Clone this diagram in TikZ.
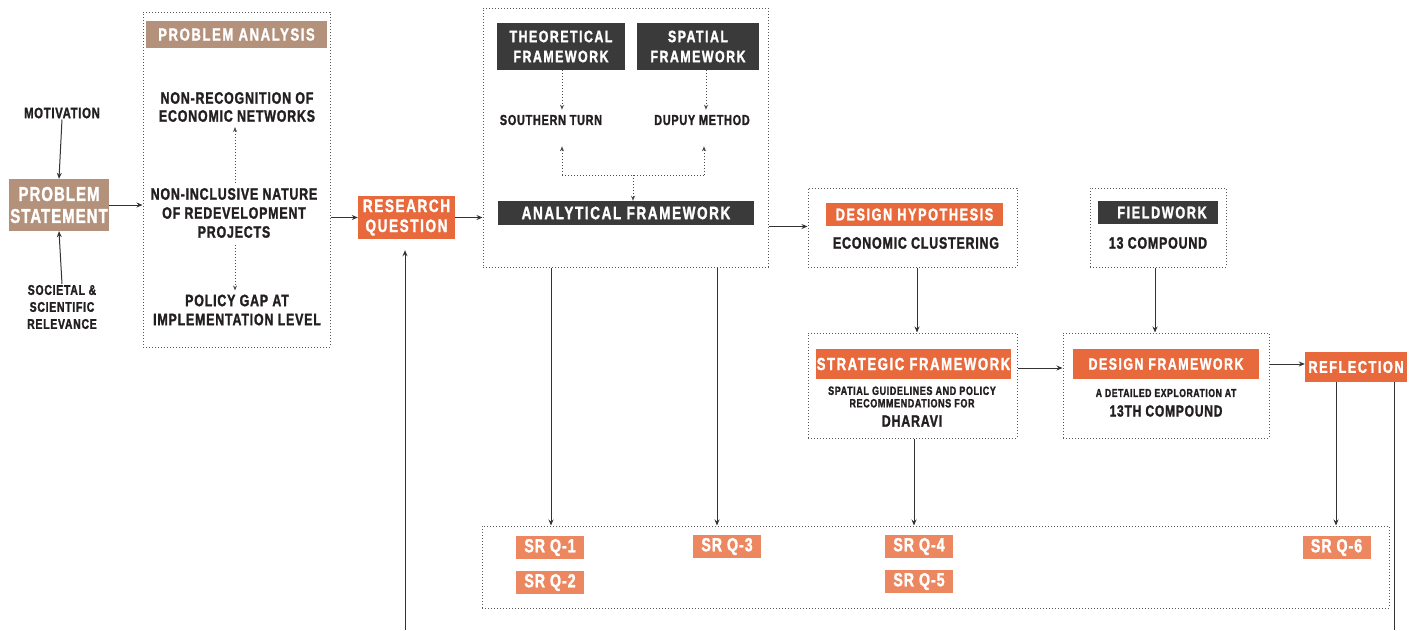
\documentclass[tikz,border=0pt]{standalone}
\usepackage{fontspec}
\usetikzlibrary{arrows.meta}
\newfontfamily\labf{Liberation Sans}[FakeStretch=0.75,LetterSpace=9,FakeBold=1.5]
\newfontfamily\bodf{Liberation Sans}[FakeStretch=0.75,LetterSpace=5,FakeBold=1.5]
\definecolor{orng}{HTML}{E8693C}
\definecolor{lorng}{HTML}{EC8760}
\definecolor{brwn}{HTML}{B3917B}
\definecolor{dgray}{HTML}{3A3A3A}
\definecolor{txt}{HTML}{231F20}
\newcommand{\fs}[2]{\fontsize{#1}{#2}\selectfont}
\tikzset{
  lbox/.style={inner sep=0pt, align=center, text=white},
  btxt/.style={inner sep=1pt, align=center, text=txt},
  dotbox/.style={draw=black!65, line width=1pt, dash pattern=on 1pt off 2pt},
  arr/.style={-{Stealth[length=6pt,width=5pt]}, line width=1pt, draw=black!80},
  darr/.style={-{Stealth[length=5pt,width=4pt]}, line width=1pt, draw=black!70, dash pattern=on 1pt off 2pt},
  pline/.style={line width=1pt, draw=black!80},
}
\begin{document}
\begin{tikzpicture}[x=1pt,y=-1pt]
\useasboundingbox[fill=white] (0,0) rectangle (1420,630);

% ---------- left ----------
\node[btxt, font=\bodf\bfseries\fs{15}{17}] (mot) at (62,113) {MOTIVATION};
\node[lbox, fill=brwn, minimum width=100pt, minimum height=52pt, font=\bodf\bfseries\fs{20}{22}] (ps) at (59,205) {PROBLEM\\STATEMENT};
\node[btxt, font=\bodf\bfseries\fs{14}{17}] (soc) at (62,307) {SOCIETAL \&\\SCIENTIFIC\\RELEVANCE};
\draw[arr] (mot.south) -- (ps.north);
\draw[arr] (soc.north) -- (ps.south);

% problem analysis
\node[dotbox, minimum width=187pt, minimum height=335pt, inner sep=0pt] (pa) at (236.5,179.5) {};
\node[lbox, fill=brwn, minimum width=181pt, minimum height=27pt, font=\labf\bfseries\fs{17.5}{20}] (pal) at (236.5,34.5) {PROBLEM ANALYSIS};
\node[btxt, font=\bodf\bfseries\fs{16.5}{18}] (nr) at (237,107) {NON-RECOGNITION OF\\ECONOMIC NETWORKS};
\node[btxt, font=\bodf\bfseries\fs{16.5}{19}] (ni) at (234,213) {NON-INCLUSIVE NATURE\\OF REDEVELOPMENT\\PROJECTS};
\node[btxt, font=\bodf\bfseries\fs{16.5}{19}] (pg) at (237,310) {POLICY GAP AT\\IMPLEMENTATION LEVEL};
\coordinate (a1) at (235,183);
\coordinate (a2) at (235,245);
\draw[darr] (a1) -- ([yshift=-4pt]nr.south -| a1);
\draw[darr] (a2) -- ([yshift=3pt]pg.north -| a2);
\draw[arr] (ps.east) -- (ps.east -| pa.west);

% research question
\node[lbox, fill=orng, minimum width=97pt, minimum height=43pt, font=\labf\bfseries\fs{18}{20}] (rq) at (406.5,217.5) {RESEARCH\\QUESTION};
\draw[arr] (rq.west -| pa.east) -- (rq.west);
\coordinate (rqin) at (405,630);
\draw[arr] (rqin) -- ([yshift=-11pt]rq.south -| rqin);

% ---------- middle ----------
\node[dotbox, minimum width=285pt, minimum height=259pt, inner sep=0pt] (mid) at (625.5,137.5) {};
\draw[arr] (rq.east) -- (rq.east -| mid.west);
\node[lbox, fill=dgray, minimum width=128pt, minimum height=47pt, font=\labf\bfseries\fs{16.5}{20}] (tf) at (561,46.5) {THEORETICAL\\FRAMEWORK};
\node[lbox, fill=dgray, minimum width=122pt, minimum height=47pt, font=\labf\bfseries\fs{16.5}{20}] (spf) at (698,46.5) {SPATIAL\\FRAMEWORK};
\node[btxt, font=\bodf\bfseries\fs{14.5}{16}] (st) at (551,120) {SOUTHERN TURN};
\node[btxt, font=\bodf\bfseries\fs{14.5}{16}] (dm) at (702,120) {DUPUY METHOD};
\draw[darr] (tf.south -| 562,0) coordinate (t1) -- ([yshift=4pt]st.north -| t1);
\draw[darr] (spf.south -| 706,0) coordinate (t2) -- ([yshift=4pt]dm.north -| t2);
\node[lbox, fill=dgray, minimum width=256pt, minimum height=24pt, font=\labf\bfseries\fs{18}{20}] (af) at (626,213) {ANALYTICAL FRAMEWORK};
\coordinate (busL) at (562,175);
\coordinate (busR) at (704,175);
\coordinate (busM) at (633,175);
\draw[line width=1pt, draw=black!70, dash pattern=on 1pt off 2pt] (busL) -- (busR);
\draw[darr] (busL) -- ([yshift=-20pt]st.south -| busL);
\draw[darr] (busR) -- ([yshift=-20pt]dm.south -| busR);
\draw[darr] (busM) -- (af.north -| busM);

% ---------- right ----------
\node[dotbox, minimum width=209pt, minimum height=79pt, inner sep=0pt] (dh) at (912.5,227.5) {};
\node[lbox, fill=orng, minimum width=177pt, minimum height=23pt, font=\labf\bfseries\fs{17}{20}] (dhl) at (914.5,214.5) {DESIGN HYPOTHESIS};
\node[btxt, font=\bodf\bfseries\fs{16.5}{18}] (ec) at (916,243) {ECONOMIC CLUSTERING};
\draw[arr] (dh.west -| mid.east) ++(0,-1) coordinate (m1) -- (dh.west |- m1);

\node[dotbox, minimum width=209pt, minimum height=105pt, inner sep=0pt] (sf) at (912.5,385.5) {};
\node[lbox, fill=orng, minimum width=195pt, minimum height=30pt, font=\labf\bfseries\fs{17.5}{20}] (sfl) at (913.5,364) {STRATEGIC FRAMEWORK};
\node[btxt, font=\bodf\bfseries\fs{12}{12.5}] (sft) at (912,397) {SPATIAL GUIDELINES AND POLICY\\RECOMMENDATIONS FOR};
\node[btxt, font=\bodf\bfseries\fs{16.5}{17}] (dha) at (912,421) {DHARAVI};
\draw[arr] (dh.south -| 917,0) coordinate (d1) -- (sf.north -| d1);

\node[dotbox, minimum width=136pt, minimum height=79pt, inner sep=0pt] (fw) at (1158,227.5) {};
\node[lbox, fill=dgray, minimum width=120pt, minimum height=23pt, font=\labf\bfseries\fs{17}{20}] (fwl) at (1158,212.5) {\hspace{8pt}FIELDWORK};
\node[btxt, font=\bodf\bfseries\fs{16.5}{18}] (cp) at (1158,243) {13 COMPOUND};

\node[dotbox, minimum width=206pt, minimum height=105pt, inner sep=0pt] (df) at (1166,385.5) {};
\node[lbox, fill=orng, minimum width=186pt, minimum height=30pt, font=\labf\bfseries\fs{16.5}{20}] (dfl) at (1166,364) {DESIGN FRAMEWORK};
\node[btxt, font=\bodf\bfseries\fs{11.5}{13}] (dft) at (1166,393) {A DETAILED EXPLORATION AT};
\node[btxt, font=\bodf\bfseries\fs{16}{18}] (dfc) at (1166,411) {13TH COMPOUND};
\draw[arr] (fw.south -| 1155,0) coordinate (f1) -- (df.north -| f1);
\draw[arr] (sf.east |- 0,368) coordinate (s1) -- (df.west |- s1);

\node[lbox, fill=orng, minimum width=102pt, minimum height=30pt, font=\labf\bfseries\fs{17}{20}] (rf) at (1356,367) {REFLECTION};
\draw[arr] (df.east |- 0,364) coordinate (r1) -- (rf.west |- r1);

% ---------- sub research questions ----------
\node[dotbox, minimum width=907pt, minimum height=82pt, inner sep=0pt] (srq) at (935.5,567) {};
\tikzset{sq/.style={lbox, fill=lorng, minimum width=68pt, minimum height=23pt, font=\bodf\bfseries\fs{19}{20}}}
\node[sq] (q1) at (550,547.5) {SR Q-1};
\node[sq] (q2) at (550,582.5) {SR Q-2};
\node[sq] (q3) at (727,546.5) {SR Q-3};
\node[sq] (q4) at (919,546.5) {SR Q-4};
\node[sq] (q5) at (919,581.5) {SR Q-5};
\node[sq] (q6) at (1336.5,547.5) {SR Q-6};

\draw[arr] (mid.south -| 551,0) coordinate (b1) -- (srq.north -| b1);
\draw[arr] (mid.south -| 717,0) coordinate (b2) -- (srq.north -| b2);
\draw[arr] (sf.south -| 914,0) coordinate (b3) -- (srq.north -| b3);
\draw[arr] (rf.south -| 1336,0) coordinate (b4) -- (srq.north -| b4);
\coordinate (rfout) at (1394,630);
\draw[pline] (rf.south -| rfout) -- (rfout);
\end{tikzpicture}
\end{document}
